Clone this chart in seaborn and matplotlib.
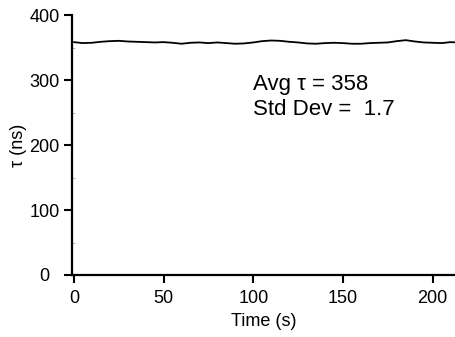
import pandas as pd
import matplotlib.pyplot as plt
import seaborn as sns
from matplotlib.ticker import MultipleLocator

# lifetime trace (5 s steps)
time_s = [0, 5, 10, 15, 20, 25, 30, 35, 40, 45, 50, 55, 60, 65, 70, 75, 80,
          85, 90, 95, 100, 105, 110, 115, 120, 125, 130, 135, 140, 145, 150,
          155, 160, 165, 170, 175, 180, 185, 190, 195, 200, 205, 210, 213]
tau_ns = [358.5, 357, 357.5, 359, 360, 360.5, 359.5, 359, 358.5, 358, 358.5,
          357.5, 356, 357.5, 358, 357, 358, 357, 356, 356.5, 358, 360, 361,
          360.5, 359, 358, 356.5, 356, 357, 357.5, 357, 356, 356, 357, 357.5,
          358, 360, 361.5, 359.5, 358, 357.5, 357, 358.5, 358]

x_ticks = [0, 50, 100, 150, 200]
y_ticks = [0, 100, 200, 300, 400]
# the "0" label sits a little further left in the original
y_tick_labels = ['0  ', '100', '200', '300', '400']
stats_lines = ['Avg τ = 358', 'Std Dev =  1.7']

sns.set_style("ticks")
plt.rcParams['font.family'] = ['Liberation Sans', 'DejaVu Sans']
plt.rcParams['text.color'] = 'black'
plt.rcParams['axes.labelcolor'] = 'black'

fig = plt.figure(figsize=(4.56, 3.37), dpi=100)
ax = fig.add_axes([0.158, 0.184, 0.842, 0.771])

df = pd.DataFrame({"t": time_s, "tau": tau_ns})
sns.lineplot(data=df, x="t", y="tau", ax=ax, color="black", linewidth=1.3)

ax.set_xlim(-1, 213)
ax.set_ylim(0, 400)
ax.set_xticks(x_ticks)
ax.set_yticks(y_ticks)
ax.set_yticklabels(y_tick_labels)
ax.yaxis.set_minor_locator(MultipleLocator(50))
ax.tick_params(axis='both', which='major', length=5.8, width=1.5,
               labelsize=13, colors='black')
ax.tick_params(axis='x', which='major', pad=5)
ax.tick_params(axis='y', which='major', pad=3)
ax.tick_params(axis='y', which='minor', length=2, width=0.5, direction='in',
               color='0.6')

for side in ('top', 'right'):
    ax.spines[side].set_visible(False)
for side in ('left', 'bottom'):
    ax.spines[side].set_linewidth(1.6)
    ax.spines[side].set_color('black')

ax.set_xlabel('Time (s)', fontsize=13, labelpad=4.5)
ax.set_ylabel('τ (ns)', fontsize=13, labelpad=2)

ax.text(100, 285, stats_lines[0], fontsize=16, va='baseline', ha='left')
ax.text(100, 246, stats_lines[1], fontsize=16, va='baseline', ha='left')

fig.savefig('out.png', dpi=100)
